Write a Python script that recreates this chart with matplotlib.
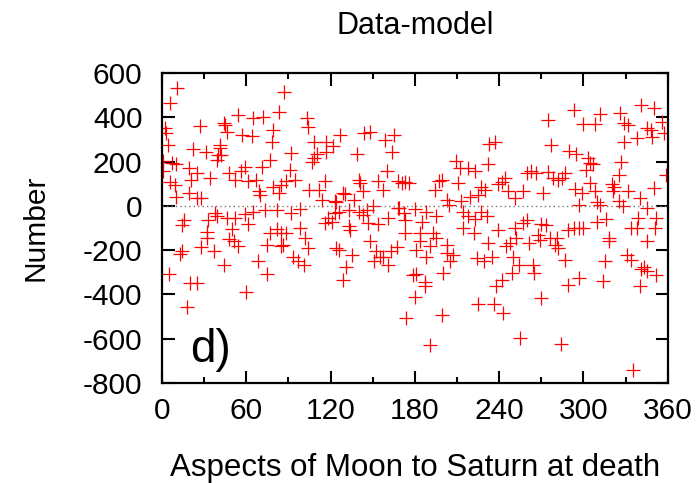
import numpy as np
import matplotlib
matplotlib.use("Agg")
import matplotlib.pyplot as plt
from matplotlib.ticker import MultipleLocator

# Data-model residuals (aspect in degrees, number)
aspect = [11, 6, 2, 3, 27, 44, 4, 22, 31, 41, 40, 39, 1, 1, 10, 7, 19, 25, 21, 34,
          6, 9, 10, 19, 25, 28, 38, 33, 16, 14, 32, 32, 28, 37, 14, 13, 44, 5, 20, 25, 18,
          54, 65, 72, 83, 87, 45, 46, 57, 64, 79, 78, 41, 42, 77, 71, 59, 56, 48, 52,
          61, 67, 69, 70, 79, 85, 83, 39, 46, 52, 59, 65, 73, 82, 61, 50, 48, 51, 54,
          77, 82, 85, 75, 85, 68, 75, 60,
          103, 104, 108, 117, 122, 127, 117, 110, 108, 107, 92, 91, 95, 88, 116, 112,
          105, 114, 123, 129, 92, 98, 118, 123, 116, 121, 88, 98, 102, 86, 104, 124,
          93, 97, 101, 131, 129,
          144, 148, 159, 165, 164, 139, 160, 140, 141, 154, 157, 143, 130, 137, 168,
          171, 124, 126, 133, 146, 150, 143, 140, 168, 161, 154, 147, 133, 134, 126,
          135, 148, 152, 151, 155, 157, 161, 163, 167, 173, 174,
          173, 176, 197, 199, 194, 211, 203, 204, 213, 169, 172, 180, 188, 195, 173,
          185, 214, 184, 193, 195, 184, 191, 203, 181, 188, 203, 207, 205, 179, 181,
          187, 187, 200, 180, 199, 191, 209, 212,
          237, 233, 232, 218, 223, 227, 230, 225, 219, 244, 242, 239, 246, 251, 257,
          214, 218, 223, 227, 231, 222, 239, 251, 232, 245, 248, 252, 224, 229, 235,
          250, 254, 249, 242, 238, 225, 236, 243, 255,
          293, 275, 300, 277, 290, 295, 260, 263, 266, 275, 278, 282, 285, 287, 294,
          271, 299, 297, 260, 257, 270, 273, 268, 269, 276, 281, 280, 282, 289, 293,
          297, 261, 264, 265, 287, 297, 289, 270, 284,
          312, 326, 341, 308, 329, 332, 338, 329, 303, 305, 307, 302, 327, 325, 305,
          320, 322, 321, 332, 308, 340, 310, 312, 325, 328, 300, 310, 316, 334, 338,
          339, 318, 318, 315, 331, 334, 341, 314, 340, 335,
          350, 356, 345, 348, 357, 349, 359, 350, 345, 352, 351, 345, 343, 345, 352]

number = [531, 466, 350, 328, 361, 373, 275, 257, 242, 275, 230, 207, 203, 155, 188,
          192, 170, 147, 117, 125, 107, 95, 42, 57, 37, 35, -33, -63, -66, -86, -116,
          -146, -188, -206, -206, -218, -269, -308, -349, -349, -459,
          410, 395, 403, 425, 516, 365, 335, 320, 317, 343, 290, 260, 230, 207, 177,
          177, 158, 147, 117, 110, 117, 65, 47, 83, 95, 57, -48, -53, -53, -38, -26,
          -21, -21, -83, -104, -149, -161, -183, -123, -104, -123, -176, -183, -251,
          -308, -389,
          395, 358, 290, 290, 268, 320, 245, 233, 215, 200, 238, 162, 117, 110, 113,
          72, 72, 27, 23, 57, -33, -14, -56, -33, -78, -71, -123, -101, -146, -176,
          -191, -191, -229, -251, -266, -276, -336,
          328, 335, 298, 320, 245, 233, 155, 117, 102, 110, 72, 65, 53, 27, 113, 102,
          19, -26, -18, -18, -3, -41, -26, -10, -56, -83, -78, -93, -108, -198, -221,
          -161, -206, -248, -233, -229, -266, -206, -188, -123, -507,
          107, 102, 110, 117, 72, 102, 27, 5, 23, -10, -33, -14, -26, -48, -63, -71,
          -101, -123, -123, -146, -161, -183, -176, -198, -229, -213, -224, -251,
          -311, -308, -344, -364, -304, -413, -495, -627, 204, 170,
          287, 278, 188, 170, 158, 87, 72, 47, 38, 125, 107, 98, 65, 35, 68, -26, -48,
          -59, -28, -48, -123, -108, -101, -168, -183, -168, -146, -236, -251, -229,
          -229, -266, -304, -334, -364, -443, -443, -484, -597,
          433, 388, 368, 275, 248, 233, 147, 155, 150, 152, 125, 117, 125, 147, 77, 57,
          57, 5, -63, -78, -83, -86, -131, -153, -146, -143, -176, -191, -108, -98,
          -98, -168, -266, -304, -244, -326, -356, -416, -624,
          413, 418, 455, 368, 373, 365, 308, 287, 215, 192, 188, 162, 200, 140, 102,
          98, 87, 68, 65, 65, 37, 19, 5, 23, -3, -101, -71, -59, -101, -101, -56,
          -143, -161, -251, -221, -244, -284, -341, -364, -740,
          443, 377, 350, 343, 328, 313, 140, 80, -10, -56, -101, -158, -274, -296, -314]

panel_label = "d)"

plt.rcParams['font.family'] = ['Liberation Sans', 'DejaVu Sans']
plt.rcParams['axes.unicode_minus'] = False

fig = plt.figure(figsize=(6.97, 4.83), dpi=100)
ax = fig.add_axes([0.2324, 0.207, 0.7256, 0.642])

ax.plot(aspect, number, linestyle='none', marker='+', color='#ff0000',
        markersize=10.5, markeredgewidth=0.9)
ax.plot([0, 360], [0, 0], linestyle=(0, (1, 2.2)), color='#777777', linewidth=1.0)

ax.set_xlim(0, 360)
ax.set_ylim(-800, 600)
ax.xaxis.set_major_locator(MultipleLocator(60))
ax.xaxis.set_minor_locator(MultipleLocator(30))
ax.yaxis.set_major_locator(MultipleLocator(200))

ax.tick_params(which='both', direction='in', top=True, right=True, width=1.5, labelsize=21.5)
ax.tick_params(which='major', length=9)
ax.tick_params(which='minor', length=4.5)
ax.tick_params(axis='y', pad=14)
ax.tick_params(axis='x', pad=10)
for s in ax.spines.values():
    s.set_linewidth(1.6)

ax.set_xlabel("Aspects of Moon to Saturn at death", fontsize=22.5, labelpad=20)
ax.set_ylabel("Number", fontsize=21.5, labelpad=24)
ax.set_title("Data-model", fontsize=22, pad=28)
ax.text(0.055, 0.035, panel_label, transform=ax.transAxes, fontsize=33, ha='left', va='bottom')

fig.savefig("out.png", dpi=100)
